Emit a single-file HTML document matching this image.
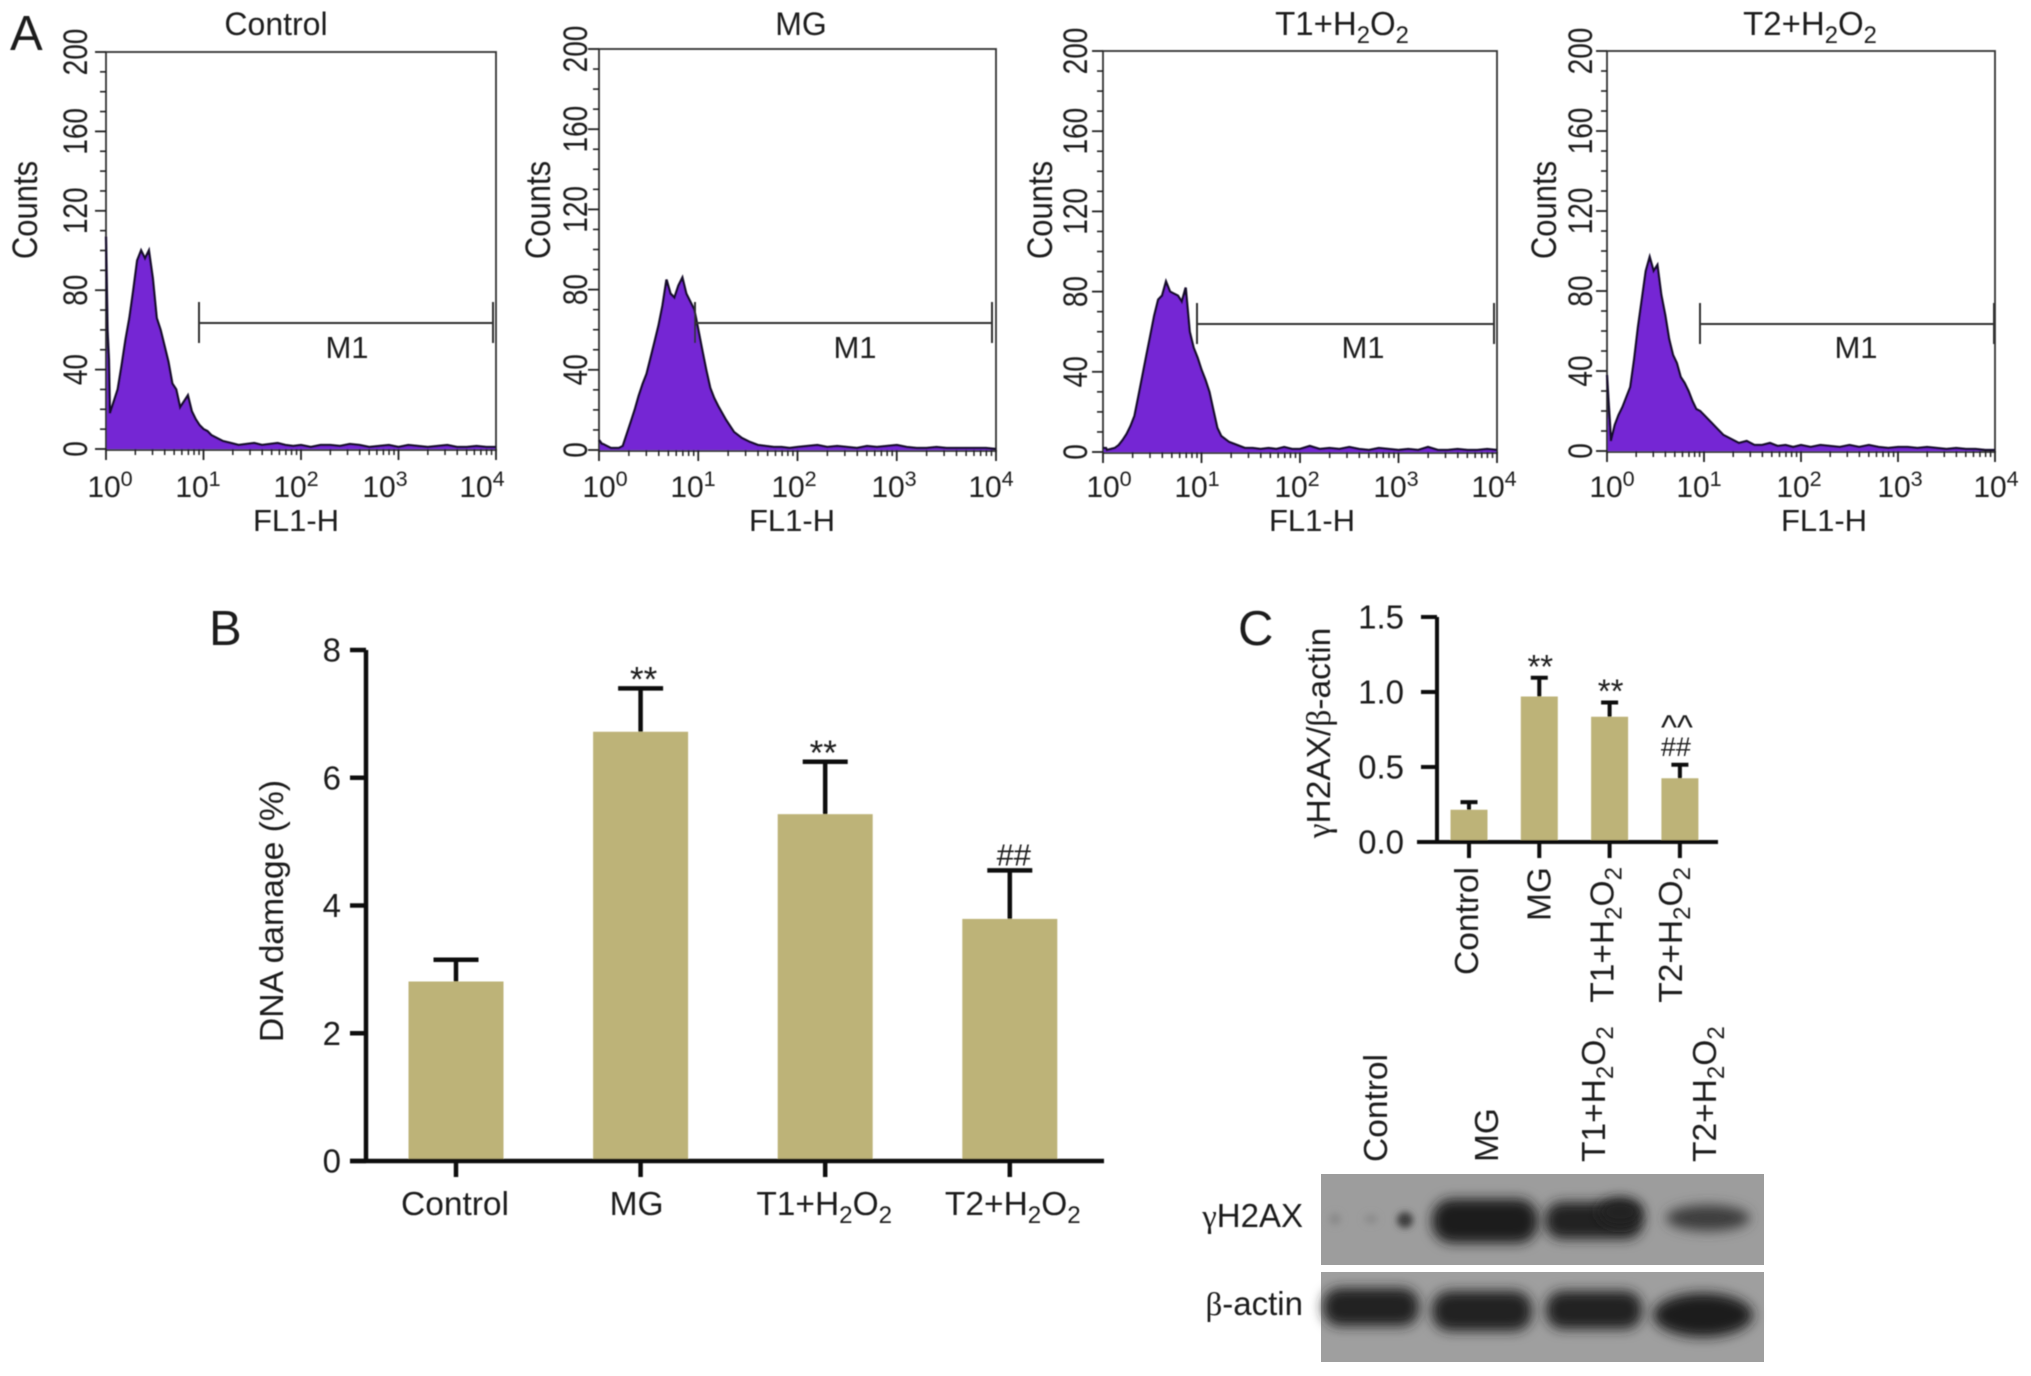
<!DOCTYPE html>
<html lang="en">
<head>
<meta charset="utf-8">
<title>Flow cytometry, DNA damage and γH2AX western blot</title>
<style>
  html,body{margin:0;padding:0;background:#fff;}
  body{width:2031px;height:1376px;overflow:hidden;}
  svg{display:block;}
  text{font-family:"Liberation Sans",sans-serif;fill:#1f1f1f;}
</style>
</head>
<body>
<svg id="fig" xmlns="http://www.w3.org/2000/svg" width="2031" height="1376" viewBox="0 0 2031 1376">
  <defs>
    <filter id="soft" x="-2%" y="-2%" width="104%" height="104%"><feGaussianBlur stdDeviation="0.55"/></filter>
    <filter id="bandBlur" x="-30%" y="-60%" width="160%" height="220%"><feGaussianBlur stdDeviation="6"/></filter>
    <filter id="spotBlur" x="-100%" y="-100%" width="300%" height="300%"><feGaussianBlur stdDeviation="3.5"/></filter>
  </defs>
  <rect width="2031" height="1376" fill="#fff"/>

  <g>
    <rect x="1321" y="1174" width="443" height="91" fill="#9d9d9d"/>
    <g>
      <ellipse cx="1335" cy="1219" rx="6" ry="6" fill="#8a8a8a" filter="url(#spotBlur)"/>
      <ellipse cx="1371" cy="1219" rx="7" ry="5" fill="#8d8d8d" filter="url(#spotBlur)"/>
      <ellipse cx="1405" cy="1220" rx="8" ry="8" fill="#3e3e3e" filter="url(#spotBlur)"/>
      <rect x="1432" y="1199" width="106" height="44" rx="20" fill="#1f1f1f" filter="url(#bandBlur)"/>
      <rect x="1545" y="1202" width="98" height="37" rx="17" fill="#242424" filter="url(#bandBlur)"/>
      <ellipse cx="1620" cy="1212" rx="22" ry="14" fill="#242424" filter="url(#bandBlur)"/>
      <ellipse cx="1708" cy="1218" rx="42" ry="13" fill="#3e3e3e" filter="url(#bandBlur)"/>
    </g>
    <rect x="1321" y="1272" width="443" height="90" fill="#9f9f9f"/>
    <g>
      <rect x="1323" y="1288" width="96" height="38" rx="17" fill="#242424" filter="url(#bandBlur)"/>
      <rect x="1432" y="1291" width="100" height="40" rx="18" fill="#212121" filter="url(#bandBlur)"/>
      <rect x="1546" y="1291" width="96" height="38" rx="17" fill="#232323" filter="url(#bandBlur)"/>
      <ellipse cx="1703" cy="1315" rx="50" ry="22" fill="#1d1d1d" filter="url(#bandBlur)"/>
    </g>
  </g>
  <g id="plots" filter="url(#soft)"></g>
</svg>

<script>
/* ---------- Panel A: flow cytometry histograms ---------- */
const flBins = [0,0.015,0.03,
  0.04,0.08,0.12,0.16,0.20,0.24,0.28,0.32,0.36,0.40,0.44,0.48,0.52,0.56,0.60,0.64,0.68,0.72,0.76,0.80,0.84,0.88,0.92,0.96,1.00,1.04,1.08,1.12,1.16,1.20,
  1.28,1.36,1.44,1.52,1.60,1.68,1.76,1.84,1.92,2.00,
  2.1,2.2,2.3,2.4,2.5,2.6,2.7,2.8,2.9,3.0,3.1,3.2,3.3,3.4,3.5,3.6,3.7,3.8,3.9,4.0];
const controlCounts = [107,60,45,
  18,24,30,42,55,66,80,95,100,96,100,86,66,60,52,44,33,30,21,24,27,19,15,12,10,9,7,6,5,4,
  3,2,2.5,3,2,2.5,3,2,1.5,2,
  1,2,2,1.5,2.5,2,1,1.5,2,1,2,1.5,1,1.5,2,1,1,1.5,1,1];
const mgCounts = [5,4,3,
  3,2,1,1,1,2,8,14,20,27,33,38,46,54,62,72,85,78,76,82,86,78,74,70,60,50,40,31,26,22,
  15,9,6,4,2.5,2,1.5,1.5,1,1.5,
  2,2.5,1.5,2,1.5,1,2,1.5,2,2.5,1.5,1,1,1.5,1,1,1,1,1,0.5];
const t1Counts = [2,2,2,
  1,1.5,2,3.5,6,9,13,18,28,38,48,58,68,76,78,85,80,79,78,75,82,60,52,47,41,36,30,21,12,8,
  5,3.5,2,2,1.5,2,1.5,2.5,1.5,1.5,
  3,1.5,2,1.5,2.5,1.5,1,2,1.5,1,1.5,1,2.5,1,1,1.5,1,1,1.5,1];
const t2Counts = [38,25,14,
  5,13,18,22,27,32,46,62,76,90,97,90,93,78,68,56,48,44,37,34,30,25,21,20,18,16,14,12,10,8,
  6,4,5,3,3,4,2.5,3,2,3,
  2,3,2.5,2,3,2,3,2,1.5,2,2,1.5,2,1.5,1,1.5,1,1,0.5,0.5];
const countTicks = [0,40,80,120,160,200];
const countMinorTicks = [10,20,30,50,60,70,90,100,110,130,140,150,170,180,190];
const decadeExponents = ["0","1","2","3","4"];
const decadeMinorFractions = [2,3,4,5,6,7,8,9];

/* ---------- Panel B: DNA damage bars ---------- */
const groups = ["Control","MG","T1+H2O2","T2+H2O2"];
const dnaDamage = [2.81,6.72,5.43,3.79];
const dnaDamageErrTop = [3.15,7.40,6.25,4.55];
const dnaTicks = ["0","2","4","6","8"];
const dnaMarks = ["","**","**","##"];

/* ---------- Panel C: gamma-H2AX / beta-actin bars ---------- */
const h2axRatio = [0.215,0.97,0.835,0.425];
const h2axErrTop = [0.266,1.095,0.93,0.515];
const h2axTicks = ["0.0","0.5","1.0","1.5"];
const h2axMarks = ["","**","**","##"];
const h2axExtraMarks = ["","","","^^"];

const NS = "http://www.w3.org/2000/svg";
const plots = document.getElementById("plots");
const INK = "#222";

function node(parent, tag, attrs) {
  const el = document.createElementNS(NS, tag);
  for (const k in attrs) el.setAttribute(k, attrs[k]);
  parent.appendChild(el);
  return el;
}
function addRun(el, str, kind, size) {
  const t = document.createElementNS(NS, "tspan");
  t.textContent = str;
  if (kind === "sub") { t.setAttribute("font-size", size * 0.72); t.setAttribute("dy", size * 0.24); }
  else if (kind === "sup") { t.setAttribute("font-size", size * 0.72); t.setAttribute("dy", -size * 0.36); }
  else if (kind === "back") { t.setAttribute("dy", -size * 0.24); }
  else if (kind === "greek") { t.setAttribute("style", 'font-family:"Liberation Serif",serif'); }
  el.appendChild(t);
}
/* writes chemistry labels with real subscript digits */
function chem(el, label, size) {
  let buf = "", afterSub = false;
  for (let i = 0; i < label.length; i++) {
    const c = label[i];
    if (c === "2" && i > 0 && (label[i-1] === "H" || label[i-1] === "O")) {
      if (buf) { addRun(el, buf, afterSub ? "back" : "", size); buf = ""; }
      addRun(el, "2", "sub", size);
      afterSub = true;
    } else {
      if (afterSub && buf === "" && c === "O") {
        addRun(el, c, "back", size);
        afterSub = false;
      } else {
        buf += c;
      }
    }
  }
  if (buf) addRun(el, buf, "", size);
}
function label(parent, x, y, size, anchor, rotate, stretch) {
  const tr = "translate(" + x + " " + y + ")" + (rotate ? " rotate(-90)" : "") + (stretch ? " scale(" + stretch[0] + " " + stretch[1] + ")" : "");
  return node(parent, "text", {transform: tr, "font-size": size, "text-anchor": anchor});
}

/* ---------- Flow cytometry panel ---------- */
function drawFacs(name, title, titleX, titleSize, box, counts, gate, m1X, labelOffsets, counterX, countsTitleX, xTitleX) {
  const g = node(plots, "g", {});
  
  
  const sx = v => box.left + (box.right - box.left) * v / 4;
  const sy = v => box.zero + (box.top - box.zero) * v / 200;

  const t = label(g, titleX, 35, titleSize, "middle");
  chem(t, title, titleSize);
  
  

  const pts = flBins.map((b, i) => sx(b).toFixed(1) + "," + sy(counts[i]).toFixed(1));
  const fill = node(g, "polygon", {points: sx(0) + "," + sy(0) + " " + pts.join(" ") + " " + sx(4) + "," + sy(0), fill: "#7428d4", stroke: "none"});
  
  
  const frame = node(g, "rect", {x: box.left, y: box.top, width: box.right - box.left, height: box.zero - box.top + 1, fill: "none", stroke: "#333", "stroke-width": 1.8});
  
  
  const outline = node(g, "polyline", {points: pts.join(" "), fill: "none", stroke: "#140a2c", "stroke-width": 2.3});
  
  

  countTicks.forEach(v => {
    const tick = node(g, "line", {x1: box.left - 11, x2: box.left, y1: sy(v), y2: sy(v), stroke: INK, "stroke-width": 1.8});
    
    
    const tl = label(g, counterX, sy(v), 28, "middle", true, [1, 1.22]);
    tl.textContent = v;
    
    
  });
  countMinorTicks.forEach(v => {
    const tick = node(g, "line", {x1: box.left - 6, x2: box.left, y1: sy(v), y2: sy(v), stroke: INK, "stroke-width": 1.6});
    
    
  });
  decadeExponents.forEach((e, i) => {
    const d = Number(e);
    const tick = node(g, "line", {x1: sx(d), x2: sx(d), y1: box.zero, y2: box.zero + 11, stroke: INK, "stroke-width": 1.8});
    
    
    const tl = label(g, box.left + labelOffsets[i], 497, 30, "middle");
    addRun(tl, "10", "", 30);
    addRun(tl, e, "sup", 30);
    
    
    if (d < 4) {
      decadeMinorFractions.forEach(m => {
        const mt = node(g, "line", {x1: sx(d + Math.log10(m)), x2: sx(d + Math.log10(m)), y1: box.zero, y2: box.zero + 6, stroke: INK, "stroke-width": 1.5});
        
        
      });
    }
  });

  const gateLine = node(g, "path", {d: "M" + gate.left + " " + (gate.y - 21) + "V" + (gate.y + 20) + "M" + gate.left + " " + gate.y + "H" + gate.right + "M" + gate.right + " " + (gate.y - 21) + "V" + (gate.y + 20), fill: "none", stroke: "#333", "stroke-width": 2});
  
  
  const m1 = label(g, m1X, 358, 31, "middle");
  m1.textContent = "M1";
  
  

  const xt = label(g, xTitleX, 531, 31, "middle");
  xt.textContent = "FL1-H";
  
  
  const yt = label(g, countsTitleX, 210, 31, "middle", true, [1, 1.15]);
  yt.textContent = "Counts";
  
  
}

drawFacs("control", "Control", 276, 32, {left:106,right:496,top:52,zero:449}, controlCounts, {left:199,right:493,y:323}, 347, [4,92,190,279,376], 87, 37, 296);
drawFacs("mg", "MG", 801, 32, {left:599,right:996,top:49,zero:450}, mgCounts, {left:695,right:992,y:323}, 855, [6,94,195,295,392], 587, 550, 792);
drawFacs("t1", "T1+H2O2", 1342, 33, {left:1103,right:1497,top:51,zero:452}, t1Counts, {left:1197,right:1494,y:324}, 1363, [6,94,194,293,391], 1087, 1052, 1312);
drawFacs("t2", "T2+H2O2", 1810, 33, {left:1607,right:1995,top:51,zero:451}, t2Counts, {left:1700,right:1994,y:324}, 1856, [5,92,192,293,389], 1592, 1556, 1824);

/* ---------- Bar charts ---------- */
function drawBars(name, spec, values, errTops, ticks, marks) {
  const g = node(plots, "g", {});
  
  
  const sy = v => spec.zero + (spec.top - spec.zero) * v / spec.max;
  const sx = i => spec.x0 + spec.step * i;

  values.forEach((v, i) => {
    const bar = node(g, "rect", {x: sx(i) - spec.barW / 2, y: sy(v), width: spec.barW, height: spec.zero - sy(v), fill: "#bdb378"});
    
    
    const stem = node(g, "line", {x1: sx(i) + spec.errDx, x2: sx(i) + spec.errDx, y1: sy(v), y2: sy(errTops[i]), stroke: "#111", "stroke-width": spec.lw});
    
    
    const cap = node(g, "line", {x1: sx(i) + spec.errDx - spec.capW / 2, x2: sx(i) + spec.errDx + spec.capW / 2, y1: sy(errTops[i]), y2: sy(errTops[i]), stroke: "#111", "stroke-width": spec.lw});
    
    
    const xtick = node(g, "line", {x1: sx(i) + spec.errDx, x2: sx(i) + spec.errDx, y1: spec.zero, y2: spec.zero + spec.tick, stroke: "#111", "stroke-width": spec.lw});
    
    
    if (marks[i]) {
      const isHash = marks[i] === "##";
      const size = isHash ? spec.hashSize : spec.starSize;
      const off = isHash ? spec.hashOff : spec.starOff;
      const dx = isHash ? spec.hashDx : spec.starDx[i];
      const m = label(g, sx(i) + spec.errDx + dx, sy(errTops[i]) - off, size, "middle");
      m.textContent = marks[i];
      
      
    }
  });
  const axis = node(g, "path", {d: "M" + spec.axisX + " " + spec.top + "V" + spec.zero + "M" + spec.xStart + " " + spec.zero + "H" + spec.xEnd, fill: "none", stroke: "#111", "stroke-width": spec.lw});
  
  
  ticks.forEach(tv => {
    const v = parseFloat(tv);
    const yt = node(g, "line", {x1: spec.axisX - spec.tick, x2: spec.axisX, y1: sy(v), y2: sy(v), stroke: "#111", "stroke-width": spec.lw});
    
    
    const tl = label(g, spec.tickLabelX, sy(v) + 11.5, 33, "end");
    tl.textContent = tv;
    
    
  });
  return {g, sx, sy};
}

const chartB = drawBars("dna-damage-chart",
  {x0:456, step:184.6, barW:95, errDx:0, capW:45, lw:4.5, tick:16, top:650, zero:1161, max:8, axisX:366, xStart:350, xEnd:1104, tickLabelX:341, hashSize:31, hashOff:5, starSize:35, starOff:-3, hashDx:4, starDx:[0,3,-2,0]},
  dnaDamage, dnaDamageErrTop, dnaTicks, dnaMarks);
groups.forEach((name, i) => {
  const t = label(chartB.g, chartB.sx(i) + [-1,-4,-1,3][i], 1215, 33.5, "middle");
  chem(t, name, 33.5);
  
  
});
const by = label(chartB.g, 283, 911, 33.7, "middle", true);
by.textContent = "DNA damage (%)";



const chartC = drawBars("h2ax-ratio-chart",
  {x0:1469, step:70.3, barW:37, errDx:0, capW:17, lw:4, tick:16, top:617, zero:842, max:1.5, axisX:1437, xStart:1417, xEnd:1718, tickLabelX:1404, hashSize:27, hashOff:9, starSize:33, starOff:0, hashDx:-4, starDx:[0,1,1,0]},
  h2axRatio, h2axErrTop, h2axTicks, h2axMarks);
h2axExtraMarks.forEach((m, i) => {
  if (!m) return;
  const t = label(chartC.g, chartC.sx(i) - 3, chartC.sy(h2axErrTop[i]) - 26, 34, "middle");
  t.textContent = m;
  
  
});
groups.forEach((name, i) => {
  const t = label(chartC.g, chartC.sx(i) + [9,11,4,2][i], 867, 33.5, "end", true);
  chem(t, name, 33.5);
  
  
});
const cy = label(chartC.g, 1330, 733, 33.5, "middle", true);
addRun(cy, "γ", "greek", 33.5);
addRun(cy, "H2AX/", "", 33.5);
addRun(cy, "β", "greek", 33.5);
addRun(cy, "-actin", "", 33.5);



/* ---------- Blot labels ---------- */
const blotG = node(plots, "g", {});


const blotLaneX = [1387, 1498, 1605, 1716];
groups.forEach((name, i) => {
  const t = label(blotG, blotLaneX[i], 1162, 33.5, "start", true);
  chem(t, name, 33.5);
  
  
});
const rowH2ax = label(blotG, 1303, 1227, 33, "end");
addRun(rowH2ax, "γ", "greek", 33);
addRun(rowH2ax, "H2AX", "", 33);


const rowActin = label(blotG, 1303, 1315, 33, "end");
addRun(rowActin, "β", "greek", 33);
addRun(rowActin, "-actin", "", 33);



/* ---------- Panel letters ---------- */
const letterG = node(plots, "g", {});


const letterA = label(letterG, 10, 50, 49, "start");
letterA.textContent = "A";


const letterB = label(letterG, 209, 645, 49, "start");
letterB.textContent = "B";


const letterC = label(letterG, 1238, 645, 49, "start");
letterC.textContent = "C";


</script>
</body>
</html>
